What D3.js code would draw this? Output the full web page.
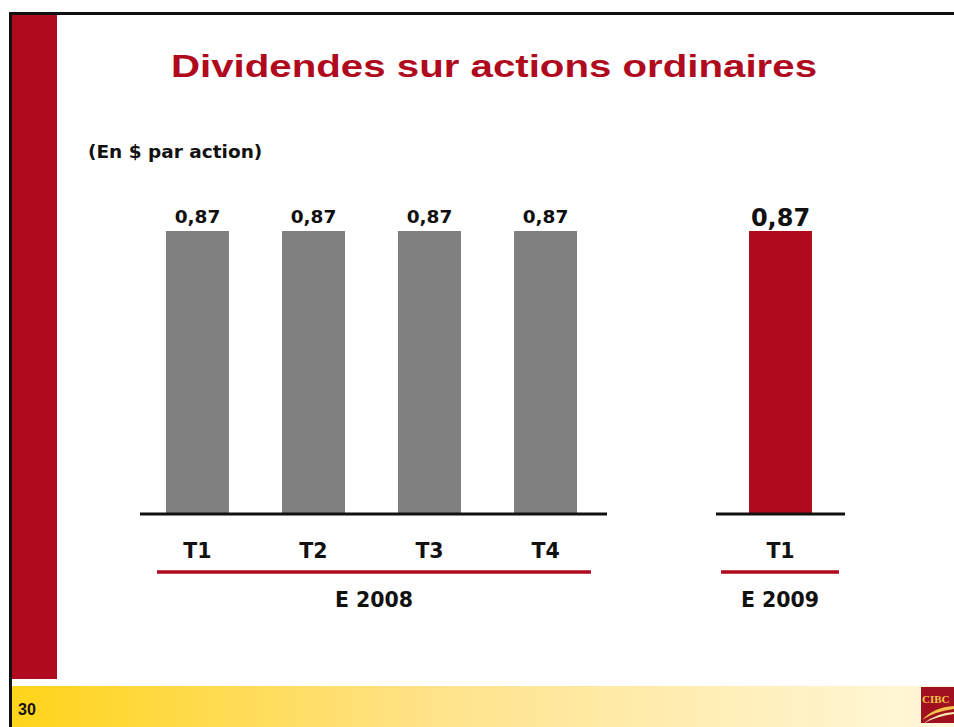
<!DOCTYPE html>
<html>
<head>
<meta charset="utf-8">
<script src="https://cdn.jsdelivr.net/npm/d3@7/dist/d3.min.js"></script>
<style>
  html, body { margin: 0; padding: 0; background: #fff; }
  svg { display: block; }
</style>
</head>
<body>
<div id="chart"></div>
<script>
// ---- data ----
const quarters2008 = ["T1", "T2", "T3", "T4"];
const values2008 = [0.87, 0.87, 0.87, 0.87];
const quarters2009 = ["T1"];
const values2009 = [0.87];
const groupLabels = ["E 2008", "E 2009"];
const titleText = "Dividendes sur actions ordinaires";
const unitText = "(En $ par action)";
const pageNumber = "30";

const width = 954, height = 727;
const red = "#AF0A1E", grey = "#808080";
const labelFont = "'DejaVu Sans', Verdana, sans-serif";

const svg = d3.select("#chart").append("svg")
  .attr("width", width).attr("height", height);

// ---- slide frame ----
const defs = svg.append("defs");
const grad = defs.append("linearGradient").attr("id", "footerGrad")
  .attr("x1", 0).attr("x2", 1).attr("y1", 0).attr("y2", 0);
grad.append("stop").attr("offset", 0).attr("stop-color", "#FFD41A");
grad.append("stop").attr("offset", 0.45).attr("stop-color", "#FFE38A");
grad.append("stop").attr("offset", 1).attr("stop-color", "#FFF8DC");

svg.append("rect").attr("x", 12).attr("y", 686).attr("width", width - 12).attr("height", height - 686)
  .attr("fill", "url(#footerGrad)");
svg.append("rect").attr("x", 12).attr("y", 15).attr("width", 45).attr("height", 664).attr("fill", red);
svg.append("rect").attr("x", 9).attr("y", 12).attr("width", width - 9).attr("height", 3).attr("fill", "#111");
svg.append("rect").attr("x", 9).attr("y", 12).attr("width", 3).attr("height", height - 12).attr("fill", "#111");

svg.append("text").attr("x", 18).attr("y", 715)
  .attr("font-family", "'Liberation Sans', Arial, sans-serif").attr("font-weight", "bold")
  .attr("font-size", 16).attr("fill", "#111").text(pageNumber);

// small CIBC logo in the corner
const logo = svg.append("g");
logo.append("rect").attr("x", 921).attr("y", 687).attr("width", width - 921).attr("height", 36).attr("fill", "#A0101E");
logo.append("text").attr("x", 922).attr("y", 703)
  .attr("font-family", "'Liberation Serif', serif").attr("font-weight", "bold")
  .attr("font-size", 11).attr("fill", "#F3C44A").text("CIBC");
logo.append("path").attr("d", "M922,720 Q934,707 954,706 L954,709 Q936,711 922,720 Z").attr("fill", "#F3C44A");
logo.append("path").attr("d", "M924,723 Q937,713 954,712 L954,714 Q938,716 924,723 Z").attr("fill", "#F8E7B0");

// ---- title ----
svg.append("text").attr("x", 494).attr("y", 77).attr("text-anchor", "middle")
  .attr("font-family", "'Liberation Sans', Arial, sans-serif")
  .attr("font-weight", "bold").attr("font-size", 32).attr("fill", red)
  .attr("textLength", 646).attr("lengthAdjust", "spacingAndGlyphs")
  .text(titleText);

svg.append("text").attr("x", 88).attr("y", 158)
  .attr("font-family", labelFont).attr("font-weight", "bold")
  .attr("font-size", 18.5).attr("fill", "#111").text(unitText);

// ---- scales ----
const y = d3.scaleLinear().domain([0, 0.87]).range([513, 231]);

const x2008 = d3.scaleBand().domain(quarters2008).range([140, 603])
  .paddingInner(0.457).paddingOuter(0.224);
const x2009 = d3.scaleBand().domain(quarters2009).range([716, 845])
  .paddingInner(0.457).paddingOuter(0.285);

const groups = [
  {label: groupLabels[0], x: x2008, quarters: quarters2008, values: values2008, fill: grey,
   valueSize: 18.5, axis: [140, 607], underline: [157, 591]},
  {label: groupLabels[1], x: x2009, quarters: quarters2009, values: values2009, fill: red,
   valueSize: 24, axis: [716, 845], underline: [721, 839]}
];

groups.forEach(function(g){
  const data = g.quarters.map(function(q, i){ return {q: q, v: g.values[i]}; });
  const grp = svg.append("g");

  grp.selectAll("rect.bar").data(data).enter().append("rect").attr("class", "bar")
    .attr("x", d => g.x(d.q)).attr("width", g.x.bandwidth())
    .attr("y", d => y(d.v)).attr("height", d => y(0) - y(d.v))
    .attr("fill", g.fill);

  grp.selectAll("text.val").data(data).enter().append("text").attr("class", "val")
    .attr("x", d => g.x(d.q) + g.x.bandwidth() / 2).attr("y", d => y(d.v) - (g.valueSize > 20 ? 5 : 8))
    .attr("text-anchor", "middle").attr("font-family", labelFont).attr("font-weight", "bold")
    .attr("font-size", g.valueSize).attr("fill", "#111")
    .text(d => d3.format(".2f")(d.v).replace(".", ","));

  // base line
  grp.append("line").attr("x1", g.axis[0]).attr("x2", g.axis[1])
    .attr("y1", y(0) + 1).attr("y2", y(0) + 1)
    .attr("stroke", "#111").attr("stroke-width", 3);

  // quarter labels
  const axis = d3.axisBottom(g.x).tickSize(0).tickPadding(0);
  const ax = grp.append("g").attr("transform", "translate(0," + 558 + ")").call(axis);
  ax.select(".domain").remove();
  ax.selectAll("text").attr("dy", 0).attr("y", 0)
    .attr("font-family", labelFont).attr("font-weight", "bold")
    .attr("font-size", 20.5).attr("fill", "#111");

  grp.append("line").attr("x1", g.underline[0]).attr("x2", g.underline[1])
    .attr("y1", 572).attr("y2", 572).attr("stroke", red).attr("stroke-width", 3.5);

  grp.append("text").attr("x", (g.underline[0] + g.underline[1]) / 2).attr("y", 607)
    .attr("text-anchor", "middle").attr("font-family", labelFont).attr("font-weight", "bold")
    .attr("font-size", 20.5).attr("fill", "#111").text(g.label);
});
</script>
</body>
</html>
